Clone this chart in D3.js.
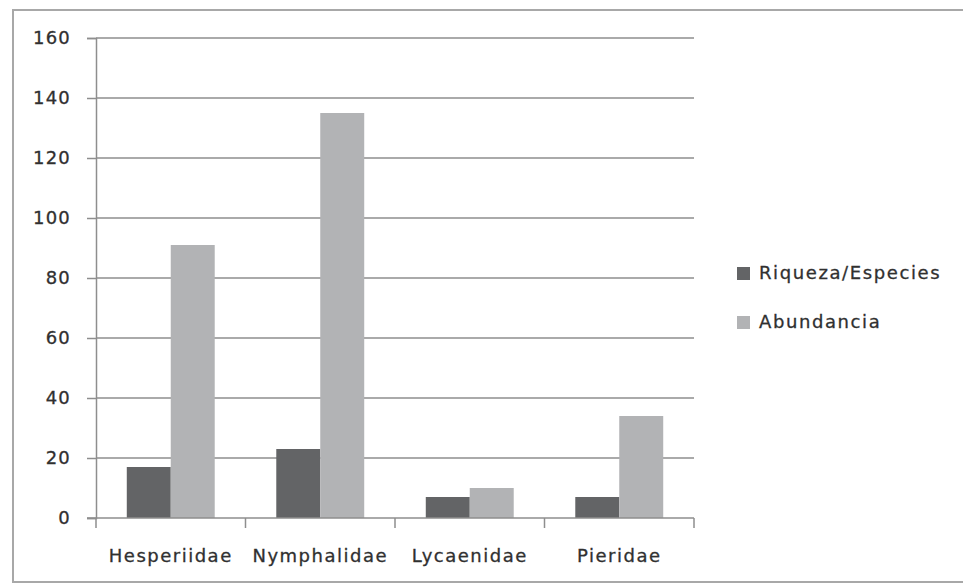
<!DOCTYPE html>
<html>
<head>
<meta charset="utf-8">
<script src="https://cdn.jsdelivr.net/npm/d3@7"></script>
<style>
  html, body { margin: 0; padding: 0; background: #fff; }
  svg text { font-family: "DejaVu Sans", sans-serif; fill: #303030; stroke: #303030; stroke-width: 0.3px; }
</style>
</head>
<body>
<svg id="chart" width="963" height="584"></svg>
<script>
const categories = ["Hesperiidae", "Nymphalidae", "Lycaenidae", "Pieridae"];
const seriesNames = ["Riqueza/Especies", "Abundancia"];
const riqueza = [17, 23, 7, 7];
const abundancia = [91, 135, 10, 34];
const yTicks = [0, 20, 40, 60, 80, 100, 120, 140, 160];
const colors = ["#636466", "#b2b3b5"];

const seriesValues = [riqueza, abundancia];
const svg = d3.select("#chart");

// outer frame
svg.append("rect")
  .attr("x", 13).attr("y", 10).attr("width", 960).attr("height", 572)
  .attr("fill", "none").attr("stroke", "#a8a8a8").attr("stroke-width", 2);

const plot = { left: 96, right: 694, top: 38, bottom: 518 };

const x0 = d3.scaleBand().domain(categories).range([plot.left, plot.right]).paddingInner(0).paddingOuter(0);
const x1 = d3.scaleBand().domain(seriesNames).range([0, x0.bandwidth()]).paddingInner(0).paddingOuter(0.7);
const y = d3.scaleLinear().domain([0, 160]).range([plot.bottom, plot.top]);

// gridlines
svg.append("g").selectAll("line").data(yTicks.filter(d => d > 0)).join("line")
  .attr("x1", plot.left).attr("x2", plot.right)
  .attr("y1", d => y(d)).attr("y2", d => y(d))
  .attr("stroke", "#8e8e8e").attr("stroke-width", 1.5);

// bars
const groups = svg.append("g").selectAll("g").data(categories).join("g")
  .attr("transform", d => `translate(${x0(d)},0)`);
groups.selectAll("rect")
  .data((c, i) => seriesNames.map((s, j) => ({ s, v: seriesValues[j][i], j })))
  .join("rect")
  .attr("x", d => x1(d.s))
  .attr("width", x1.bandwidth())
  .attr("y", d => y(d.v))
  .attr("height", d => y(0) - y(d.v))
  .attr("fill", d => colors[d.j]);

// y axis
const yAxis = d3.axisLeft(y).tickValues(yTicks).tickSize(9).tickPadding(16).tickFormat(d3.format("d"));
const gy = svg.append("g").attr("transform", `translate(${plot.left},0)`).call(yAxis);
gy.select(".domain").attr("stroke", "#8e8e8e").attr("stroke-width", 1.5);
gy.selectAll(".tick line").attr("stroke", "#8e8e8e").attr("stroke-width", 1.5);
gy.selectAll(".tick text").style("font-size", "18px").style("letter-spacing", "1.2px");

// x axis line + boundary ticks
svg.append("line")
  .attr("x1", plot.left - 9).attr("x2", plot.right)
  .attr("y1", y(0)).attr("y2", y(0))
  .attr("stroke", "#8e8e8e").attr("stroke-width", 1.5);
const bounds = categories.map(c => x0(c)).concat([x0(categories[categories.length - 1]) + x0.bandwidth()]);
svg.append("g").selectAll("line").data(bounds).join("line")
  .attr("x1", d => d).attr("x2", d => d)
  .attr("y1", y(0)).attr("y2", y(0) + 10)
  .attr("stroke", "#8e8e8e").attr("stroke-width", 1.5);

// x labels
svg.append("g").selectAll("text").data(categories).join("text")
  .attr("x", d => x0(d) + x0.bandwidth() / 2)
  .attr("y", 562)
  .attr("text-anchor", "middle")
  .style("font-size", "18px")
  .style("letter-spacing", "1.5px")
  .text(d => d);

// legend
const legend = svg.append("g").selectAll("g").data(seriesNames).join("g")
  .attr("transform", (d, i) => `translate(737,${273 + i * 49})`);
legend.append("rect")
  .attr("x", 0).attr("y", -6).attr("width", 13).attr("height", 13)
  .attr("fill", (d, i) => colors[i]);
legend.append("text")
  .attr("x", 22).attr("y", 0).attr("dy", "0.35em")
  .style("font-size", "18px")
  .style("letter-spacing", "1.6px")
  .text(d => d);
</script>
</body>
</html>
